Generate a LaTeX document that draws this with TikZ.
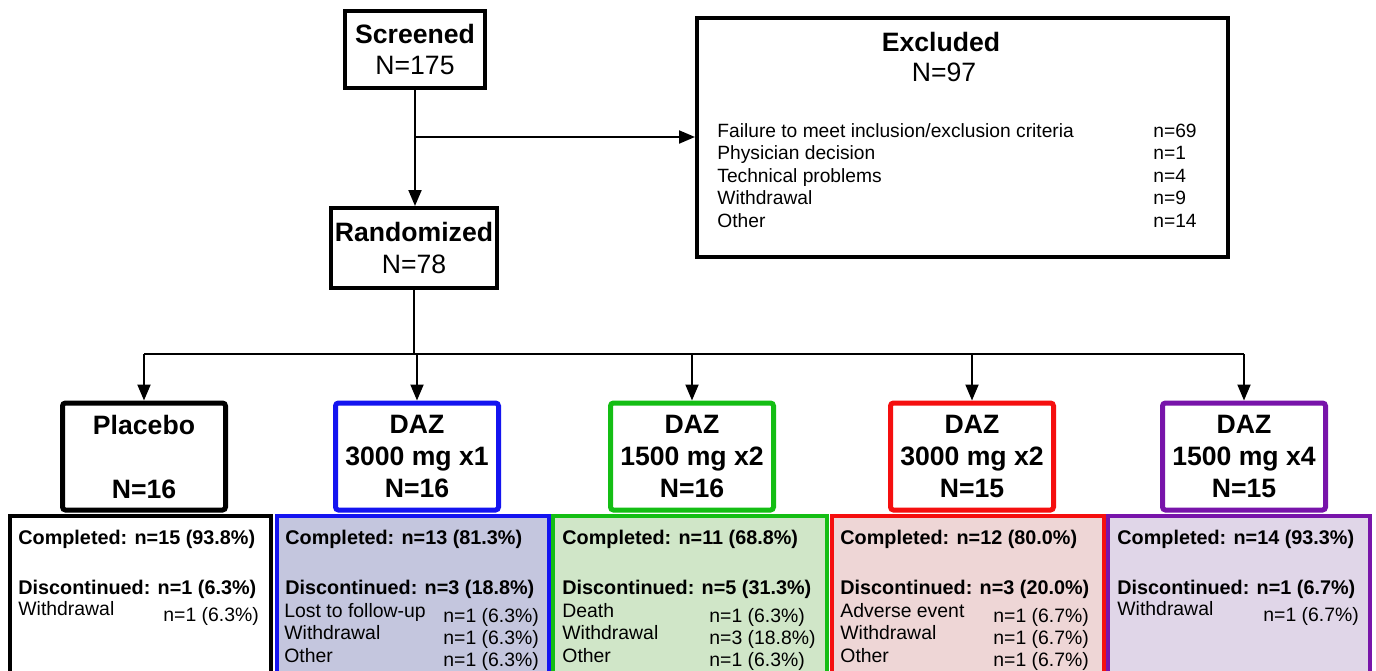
\documentclass[tikz,border=0pt]{standalone}
\usepackage{fontspec}
\setmainfont{Liberation Sans}
\usetikzlibrary{arrows.meta}
\definecolor{cblue}{RGB}{20,20,240}
\definecolor{fblue}{RGB}{196,198,222}
\definecolor{cgreen}{RGB}{20,190,20}
\definecolor{fgreen}{RGB}{208,230,200}
\definecolor{cred}{RGB}{245,15,15}
\definecolor{fred}{RGB}{238,214,214}
\definecolor{cpurple}{RGB}{120,20,170}
\definecolor{fpurple}{RGB}{224,214,232}
\begin{document}
\begin{tikzpicture}[x=0.5pt,y=-0.5pt,
  hdr/.style={draw, line width=2pt, fill=white, align=center, inner sep=0pt,
    font=\fontsize{13.3}{15.8}\selectfont},
  grp/.style={draw, line width=2.5pt, rounded corners=1.5pt, fill=white, align=center,
    inner sep=0pt, minimum width=81.5pt, minimum height=53.5pt,
    font=\fontsize{13.3}{16}\selectfont\bfseries},
  outb/.style={draw, line width=1.8pt, minimum height=87pt, inner sep=0pt},
  conn/.style={line width=1pt},
  arr/.style={conn, -{Triangle[length=8pt,width=6.5pt]}},
  bt/.style={anchor=base west, inner sep=0pt, font=\fontsize{9.9}{11}\selectfont\bfseries},
  it/.style={anchor=base west, inner sep=0pt, font=\fontsize{9.7}{11}\selectfont},
  et/.style={anchor=base west, inner sep=0pt, font=\fontsize{9.6}{11}\selectfont},
  ht/.style={inner sep=0pt, font=\fontsize{13.3}{16}\selectfont}]
\clip (0,0) rectangle (1376,670);
\fill[white] (0,0) rectangle (1376,670);

% top boxes
\node[hdr, minimum width=70pt, minimum height=38.5pt] (scr) at (415,49.5) {\textbf{Screened}\\N=175};
\node[hdr, minimum width=83pt, minimum height=40pt] (rnd) at (414,248) {\textbf{Randomized}\\N=78};
\node[draw, line width=2pt, fill=white, minimum width=265.5pt, minimum height=119.5pt] (exc) at (962.5,137.5) {};
\node[ht, font=\fontsize{13.3}{16}\selectfont\bfseries] (exct) at (941,42) {Excluded};
\node[ht] (excn) at (944,72) {N=97};
\node[et] (e1) at (717,137) {Failure to meet inclusion/exclusion criteria};
\node[et] (e2) at (717,159) {Physician decision};
\node[et] (e3) at (717,182) {Technical problems};
\node[et] (e4) at (717,204) {Withdrawal};
\node[et] (e5) at (717,227) {Other};
\node[et] (n1) at (1153,137) {n=69};
\node[et] (n2) at (1153,159) {n=1};
\node[et] (n3) at (1153,182) {n=4};
\node[et] (n4) at (1153,204) {n=9};
\node[et] (n5) at (1153,227) {n=14};

% connectors top
\coordinate (br) at (415,137);
\draw[arr] (scr.south) -- (scr.south |- rnd.north);
\draw[arr] (br) -- (br -| exc.west);
\coordinate (bus) at (414,354);

% group boxes
\node[grp] (g1) at (144,456.5) {Placebo\\\mbox{}\\N=16};
\node[grp, draw=cblue] (g2) at (417,456.5) {DAZ\\3000 mg x1\\N=16};
\node[grp, draw=cgreen] (g3) at (692,456.5) {DAZ\\1500 mg x2\\N=16};
\node[grp, draw=cred] (g4) at (972,456.5) {DAZ\\3000 mg x2\\N=15};
\node[grp, draw=cpurple] (g5) at (1244,456.5) {DAZ\\1500 mg x4\\N=15};

\draw[conn] (rnd.south) -- (bus);
\draw[conn] (bus -| g1.north) -- (bus -| g5.north);
\foreach \g in {g1,g2,g3,g4,g5}{
  \draw[arr] (bus -| \g.north) -- (\g.north);
}

% outcome boxes
\node[outb, minimum width=130.5pt, fill=white] (o1) at (140.5,603) {};
\node[outb, minimum width=136pt, draw=cblue, fill=fblue] (o2) at (413,603) {};
\node[outb, minimum width=137pt, draw=cgreen, fill=fgreen] (o3) at (690,603) {};
\node[outb, minimum width=136pt, draw=cred, fill=fred] (o4) at (968,603) {};
\node[outb, minimum width=131pt, draw=cpurple, fill=fpurple] (o5) at (1239,603) {};

% placebo
\node[bt] (p1) at (18,544) {Completed: n=15 (93.8\%)};
\node[bt] (p2) at (18,594) {Discontinued: n=1 (6.3\%)};
\node[it] (p3) at (18,615) {Withdrawal};
\node[it] (p4) at (163,621) {n=1 (6.3\%)};
% blue
\node[bt] (b1) at (285,544) {Completed: n=13 (81.3\%)};
\node[bt] (b2) at (285,594) {Discontinued: n=3 (18.8\%)};
\node[it] (b3) at (284,617) {Lost to follow-up};
\node[it] (b4) at (284,639) {Withdrawal};
\node[it] (b5) at (284,662) {Other};
\node[it] (b6) at (443,622) {n=1 (6.3\%)};
\node[it] (b7) at (443,644) {n=1 (6.3\%)};
\node[it] (b8) at (443,666) {n=1 (6.3\%)};
% green
\node[bt] (c1) at (562,544) {Completed: n=11 (68.8\%)};
\node[bt] (c2) at (562,594) {Discontinued: n=5 (31.3\%)};
\node[it] (c3) at (562,617) {Death};
\node[it] (c4) at (562,639) {Withdrawal};
\node[it] (c5) at (562,662) {Other};
\node[it] (c6) at (709,622) {n=1 (6.3\%)};
\node[it] (c7) at (709,644) {n=3 (18.8\%)};
\node[it] (c8) at (709,666) {n=1 (6.3\%)};
% red
\node[bt] (r1) at (840,544) {Completed: n=12 (80.0\%)};
\node[bt] (r2) at (840,594) {Discontinued: n=3 (20.0\%)};
\node[it] (r3) at (840,617) {Adverse event};
\node[it] (r4) at (840,639) {Withdrawal};
\node[it] (r5) at (840,662) {Other};
\node[it] (r6) at (993,622) {n=1 (6.7\%)};
\node[it] (r7) at (993,644) {n=1 (6.7\%)};
\node[it] (r8) at (993,666) {n=1 (6.7\%)};
% purple
\node[bt] (q1) at (1117,544) {Completed: n=14 (93.3\%)};
\node[bt] (q2) at (1117,594) {Discontinued: n=1 (6.7\%)};
\node[it] (q3) at (1117,615) {Withdrawal};
\node[it] (q4) at (1263,621) {n=1 (6.7\%)};
\end{tikzpicture}
\end{document}
